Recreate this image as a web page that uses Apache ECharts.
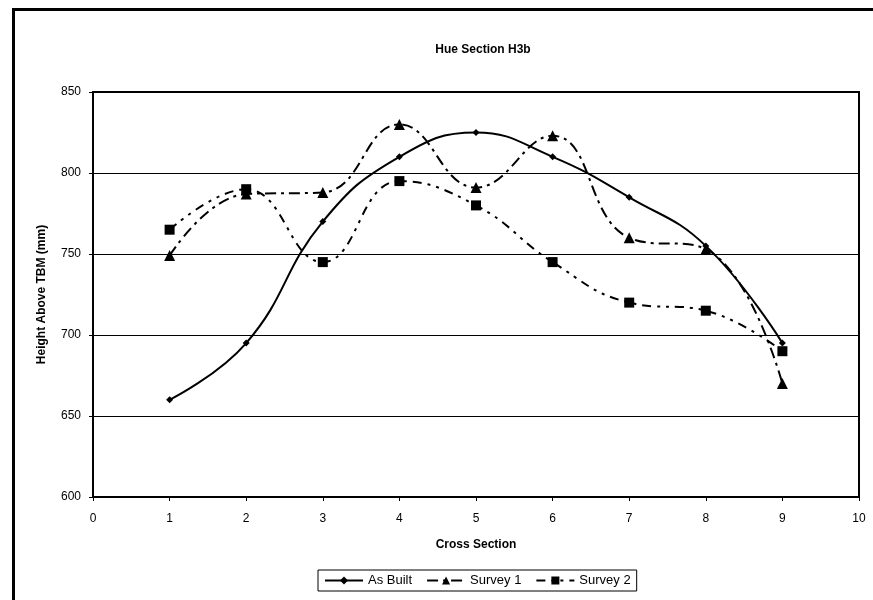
<!DOCTYPE html>
<html>
<head>
<meta charset="utf-8">
<script src="https://cdn.jsdelivr.net/npm/echarts@6/dist/echarts.min.js"></script>
<style>
  html, body { margin: 0; padding: 0; background: #fff; }
  #chart { width: 873px; height: 600px; }
</style>
</head>
<body>
<div id="chart"></div>
<script>
// Cross sections and measured heights (mm above TBM)
const sections = [1, 2, 3, 4, 5, 6, 7, 8, 9];
const asBuilt  = [660, 695, 770, 810, 825, 810, 785, 755, 695];
const survey1  = [749, 787, 788, 830, 791, 823, 760, 753, 670];
const survey2  = [765, 790, 745, 795, 780, 745, 720, 715, 690];
const xTicks = { min: 0, max: 10, interval: 1 };
const yTicks = { min: 600, max: 850, interval: 50 };

const pairs = (vals) => sections.map((s, i) => [s, vals[i]]);
const FONT = 'Liberation Sans, Arial, sans-serif';

const chart = echarts.init(document.getElementById('chart'), null, { renderer: 'canvas' });
chart.setOption({
  animation: false,
  backgroundColor: '#ffffff',
  title: {
    text: 'Hue Section H3b',
    left: 478, top: 39, textAlign: 'center',
    textStyle: { fontFamily: FONT, fontSize: 12, fontWeight: 'bold', color: '#000' }
  },
  grid: { left: 93, right: 14, top: 92, bottom: 103, show: true, borderColor: '#000', borderWidth: 2, backgroundColor: 'transparent' },
  xAxis: {
    type: 'value', min: xTicks.min, max: xTicks.max, interval: xTicks.interval,
    name: 'Cross Section', nameLocation: 'middle', nameGap: 42,
    nameTextStyle: { fontFamily: FONT, fontSize: 12, fontWeight: 'bold', color: '#000' },
    axisLine: { show: true, lineStyle: { color: '#000', width: 2 } },
    axisTick: { show: true, length: 4, lineStyle: { color: '#000', width: 1 } },
    axisLabel: { fontFamily: FONT, fontSize: 12, color: '#000', margin: 16 },
    splitLine: { show: false }
  },
  yAxis: {
    type: 'value', min: yTicks.min, max: yTicks.max, interval: yTicks.interval,
    name: 'Height Above TBM (mm)', nameLocation: 'middle', nameGap: 45, nameRotate: 90,
    nameTextStyle: { fontFamily: FONT, fontSize: 12, fontWeight: 'bold', color: '#000' },
    axisLine: { show: true, lineStyle: { color: '#000', width: 2 } },
    axisTick: { show: true, length: 4, lineStyle: { color: '#000', width: 1 } },
    axisLabel: { fontFamily: FONT, fontSize: 12, color: '#000', margin: 12 },
    splitLine: { show: true, lineStyle: { color: '#000', width: 1 } }
  },
  legend: {
    bottom: 9, left: 318,
    itemGap: 14, itemWidth: 38, itemHeight: 10,
    borderColor: '#000', borderWidth: 1, padding: [4, 6, 4, 6],
    textStyle: { fontFamily: FONT, fontSize: 13, color: '#000' },
    data: ['As Built', 'Survey 1', 'Survey 2']
  },
  graphic: [{
    type: 'rect', silent: true,
    shape: { x: 13.5, y: 9.5, width: 880, height: 620 },
    style: { fill: 'none', stroke: '#000', lineWidth: 3 }
  }],
  series: [
    {
      name: 'As Built', type: 'line', data: pairs(asBuilt), smooth: 0.45,
      symbol: 'diamond', symbolSize: 7,
      lineStyle: { color: '#000', width: 2 },
      itemStyle: { color: '#000' }
    },
    {
      name: 'Survey 1', type: 'line', data: pairs(survey1), smooth: 0.45,
      symbol: 'triangle', symbolSize: 11,
      lineStyle: { color: '#000', width: 2, type: [11, 5, 3, 5] },
      itemStyle: { color: '#000' }
    },
    {
      name: 'Survey 2', type: 'line', data: pairs(survey2), smooth: 0.45,
      symbol: 'rect', symbolSize: 10,
      lineStyle: { color: '#000', width: 2, type: [9, 6, 3, 6, 3, 6] },
      itemStyle: { color: '#000' }
    }
  ]
});
</script>
</body>
</html>
